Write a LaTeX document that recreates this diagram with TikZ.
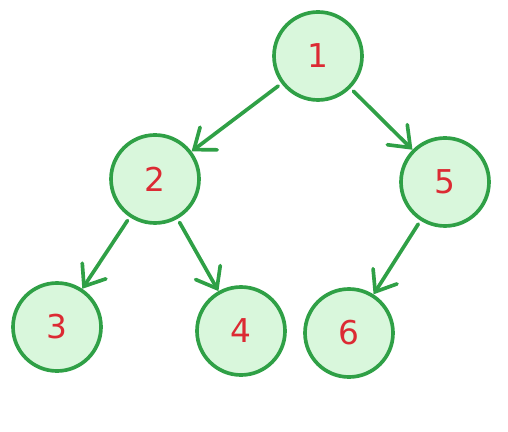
\documentclass[tikz,border=0pt]{standalone}
\usepackage{fontspec}
\setmainfont{DejaVu Sans}
\usepackage{xcolor}
\usepackage{tikz}
\usetikzlibrary{arrows.meta}
\definecolor{treegreen}{HTML}{2FA046}
\definecolor{treefill}{HTML}{D9F7DC}
\definecolor{treered}{HTML}{DC2A33}
\tikzset{
  vertex/.style={circle, draw=treegreen, fill=treefill, line width=0.11cm, minimum size=2.64cm, inner sep=0pt, text=treered, font=\fontsize{28}{28}\selectfont}, % tree vertex
  edge/.style={draw=treegreen, line width=0.11cm, line cap=round, -{Straight Barb[length=0.55cm, width=0.85cm, line cap=round]}, shorten <=0.12cm}
}
\begin{document}
\begin{tikzpicture}[x=0.03cm, y=-0.03cm]
    \useasboundingbox (0,0) rectangle (508,432);

    % Nodes
    \node [vertex] (n1) at (318,56) {1};
    \node [vertex] (n2) at (155,179) {2};
    \node [vertex] (n5) at (445,182) {5};
    \node [vertex] (n3) at (57,327) {3};
    \node [vertex] (n4) at (241,331) {4};
    \node [vertex] (n6) at (349,333) {6};

    % Edges
    \draw[edge] (n1) -- (n2);
    \draw[edge] (n1) -- (n5);
    \draw[edge] (n2) -- (n3);
    \draw[edge] (n2) -- (n4);
    \draw[edge] (n5) -- (n6);
\end{tikzpicture}
\end{document}
